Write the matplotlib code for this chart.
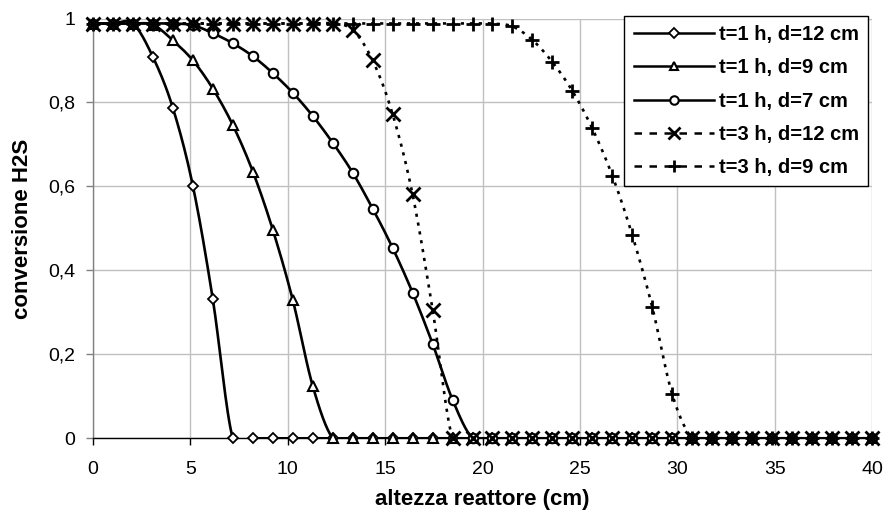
import numpy as np
import matplotlib
matplotlib.use("Agg")
import matplotlib.pyplot as plt
from matplotlib.ticker import FuncFormatter
from matplotlib.lines import Line2D

plt.rcParams['font.family'] = ['Liberation Sans', 'DejaVu Sans']

# reactor height (cm): 40 equally spaced points
altezza = [0.00, 1.03, 2.05, 3.08, 4.10, 5.13, 6.15, 7.18, 8.21, 9.23,
           10.26, 11.28, 12.31, 13.33, 14.36, 15.38, 16.41, 17.44, 18.46, 19.49,
           20.51, 21.54, 22.56, 23.59, 24.62, 25.64, 26.67, 27.69, 28.72, 29.74,
           30.77, 31.79, 32.82, 33.85, 34.87, 35.90, 36.92, 37.95, 38.97, 40.00]

t1_d12 = [0.988, 0.988, 0.988, 0.908, 0.787, 0.601, 0.332, 0, 0, 0,
          0, 0, 0, 0, 0, 0, 0, 0, 0, 0,
          0, 0, 0, 0, 0, 0, 0, 0, 0, 0,
          0, 0, 0, 0, 0, 0, 0, 0, 0, 0]
t1_d9 = [0.988, 0.988, 0.988, 0.985, 0.948, 0.900, 0.833, 0.746, 0.635, 0.497,
         0.329, 0.125, 0, 0, 0, 0, 0, 0, 0, 0,
         0, 0, 0, 0, 0, 0, 0, 0, 0, 0,
         0, 0, 0, 0, 0, 0, 0, 0, 0, 0]
t1_d7 = [0.988, 0.988, 0.988, 0.988, 0.988, 0.984, 0.965, 0.941, 0.910, 0.870,
         0.823, 0.768, 0.704, 0.633, 0.547, 0.454, 0.347, 0.225, 0.092, 0,
         0, 0, 0, 0, 0, 0, 0, 0, 0, 0,
         0, 0, 0, 0, 0, 0, 0, 0, 0, 0]
t3_d12 = [0.988, 0.988, 0.988, 0.988, 0.988, 0.988, 0.988, 0.988, 0.988, 0.988,
          0.988, 0.988, 0.988, 0.973, 0.900, 0.773, 0.581, 0.306, 0, 0,
          0, 0, 0, 0, 0, 0, 0, 0, 0, 0,
          0, 0, 0, 0, 0, 0, 0, 0, 0, 0]
t3_d9 = [0.988, 0.988, 0.988, 0.988, 0.988, 0.988, 0.988, 0.988, 0.988, 0.988,
         0.988, 0.988, 0.988, 0.988, 0.988, 0.988, 0.988, 0.988, 0.988, 0.988,
         0.988, 0.981, 0.949, 0.896, 0.827, 0.738, 0.625, 0.484, 0.312, 0.105,
         0, 0, 0, 0, 0, 0, 0, 0, 0, 0]

labels = ["t=1 h, d=12 cm", "t=1 h, d=9 cm", "t=1 h, d=7 cm",
          "t=3 h, d=12 cm", "t=3 h, d=9 cm"]
series = [t1_d12, t1_d9, t1_d7, t3_d12, t3_d9]


def smooth(x, y, n=16):
    """Excel-like smoothed line (Catmull-Rom / Bezier) through the points."""
    x = np.asarray(x, float)
    y = np.asarray(y, float)
    P = np.column_stack([x, y])
    P = np.vstack([P[0], P, P[-1]])
    out = []
    t = np.linspace(0, 1, n, endpoint=False)
    for i in range(1, len(P) - 2):
        p0, p1, p2, p3 = P[i - 1], P[i], P[i + 1], P[i + 2]
        c1 = p1 + (p2 - p0) / 6.0
        c2 = p2 - (p3 - p1) / 6.0
        b = ((1 - t) ** 3)[:, None] * p1 + (3 * (1 - t) ** 2 * t)[:, None] * c1 \
            + (3 * (1 - t) * t ** 2)[:, None] * c2 + (t ** 3)[:, None] * p2
        out.append(b)
    out.append(P[-2][None, :])
    out = np.vstack(out)
    return out[:, 0], out[:, 1]


fig = plt.figure(figsize=(8.88, 5.27), dpi=100)
ax = fig.add_axes([93 / 888, (527 - 438.3) / 527, 779 / 888, 419.8 / 527])

styles = [
    dict(marker='D', ms=5.5, ls='-', lls='-', mew=1.3),
    dict(marker='^', ms=7, ls='-', lls='-', mew=1.5),
    dict(marker='o', ms=6.8, ls='-', lls='-', mew=1.5),
    dict(marker='x', ms=9.5, ls=(0, (1.2, 2.2)), lls=(0, (3, 3)), mew=2.0),
    dict(marker='+', ms=9.5, ls=(0, (1.2, 2.2)), lls=(0, (3, 3)), mew=2.0),
]

handles = []
for ys, lab, st in zip(series, labels, styles):
    sx, sy = smooth(altezza, ys)
    ax.plot(sx, sy, color='black', lw=1.9, ls=st['ls'], zorder=3)
    ax.plot(altezza, ys, ls='none', marker=st['marker'], ms=st['ms'],
            mfc='white' if st['marker'] in ('D', '^', 'o') else 'black',
            mec='black', mew=st['mew'], zorder=4, clip_on=False)
    handles.append(Line2D([0], [0], color='black', lw=1.8, ls=st['lls'],
                          marker=st['marker'], ms=st['ms'] * 0.9,
                          mfc='white', mec='black', mew=st['mew']))

ax.set_xlim(0, 40)
ax.set_ylim(0, 1)
ax.set_xticks(np.arange(0, 41, 5))
ax.set_yticks(np.arange(0, 1.01, 0.2))


def comma(v, pos):
    s = ('%.1f' % v).rstrip('0').rstrip('.')
    return s.replace('.', ',')


ax.yaxis.set_major_formatter(FuncFormatter(comma))
ax.xaxis.set_major_formatter(FuncFormatter(lambda v, p: '%d' % v))

ax.grid(True, color='#c0c0c0', lw=1.0, zorder=0)
ax.set_axisbelow(True)
for s in ('top', 'right'):
    ax.spines[s].set_visible(False)
ax.spines['left'].set_color('#808080')
ax.spines['left'].set_linewidth(1.0)
ax.spines['bottom'].set_color('black')
ax.spines['bottom'].set_linewidth(1.0)
ax.tick_params(axis='both', direction='out', length=5, width=1.0,
               labelsize=14, colors='black')
ax.tick_params(axis='x', pad=11.5)
ax.tick_params(axis='y', pad=8, color='#808080')

ax.set_xlabel('altezza reattore (cm)', fontsize=16, fontweight='bold')
ax.set_ylabel('conversione H2S', fontsize=16, fontweight='bold')
ax.xaxis.set_label_coords(0.5, (438.3 - 489) / 419.8)
ax.yaxis.set_label_coords((33 - 93) / 779, 0.5)

leg = ax.legend(handles, labels, loc='upper right',
                bbox_to_anchor=(868.3 / 888, (527 - 16) / 527),
                bbox_transform=fig.transFigure,
                prop=dict(size=14.5, weight='bold'), frameon=True, fancybox=False,
                edgecolor='black', framealpha=1, handlelength=4.0,
                handletextpad=0.25, borderpad=0.45, labelspacing=0.71,
                borderaxespad=0)
leg.get_frame().set_linewidth(1.0)
leg.set_zorder(10)

fig.savefig('out.png', dpi=100)
